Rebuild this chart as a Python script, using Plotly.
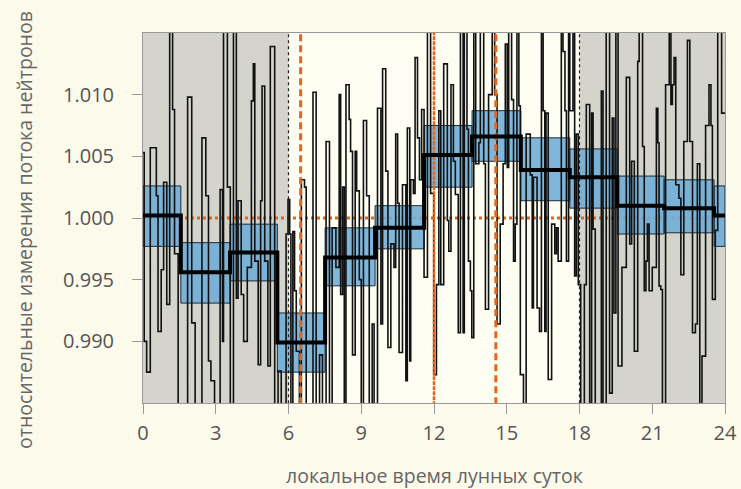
import plotly.graph_objects as go

# ---------------- data ----------------
hours = [0.00, 0.05, 0.15, 0.30, 0.55, 0.62, 0.75, 0.85, 0.98, 1.10, 1.22, 1.30, 1.45, 1.84, 2.01,
         2.15, 2.43, 2.59, 2.70, 2.80, 2.95, 3.18, 3.28, 3.32, 3.48, 3.60, 3.73, 3.85, 3.92, 4.05,
         4.15, 4.30, 4.47, 4.55, 4.61, 4.75, 4.85, 4.91, 5.02, 5.15, 5.25, 5.43, 5.57, 5.70, 5.90,
         5.98, 6.05, 6.10, 6.18, 6.25, 6.32, 6.45, 6.53, 6.66, 6.73, 7.01, 7.14, 7.28, 7.40, 7.55,
         7.69, 7.80, 7.955, 8.09, 8.15, 8.23, 8.30, 8.37, 8.50, 8.56, 8.64, 8.75, 8.81, 8.92, 9.00,
         9.09, 9.22, 9.33, 9.45, 9.53, 9.67, 9.81, 9.88, 10.01, 10.10, 10.22, 10.35, 10.42, 10.50, 10.56,
         10.70, 10.84, 10.90, 11.00, 11.04, 11.15, 11.22, 11.32, 11.40, 11.49, 11.59, 11.73, 11.86, 11.99, 12.10,
         12.20, 12.28, 12.40, 12.55, 12.61, 12.70, 12.80, 12.88, 13.00, 13.09, 13.20, 13.25, 13.36, 13.42, 13.50,
         13.56, 13.64, 13.72, 13.85, 13.91, 14.05, 14.12, 14.25, 14.40, 14.50, 14.60, 14.73, 14.85, 14.94, 15.02,
         15.08, 15.20, 15.28, 15.35, 15.42, 15.50, 15.56, 15.69, 15.80, 15.97, 16.05, 16.10, 16.25, 16.35, 16.43,
         16.50, 16.57, 16.62, 16.71, 16.85, 16.98, 17.05, 17.12, 17.25, 17.32, 17.40, 17.46, 17.55, 17.60, 17.73,
         17.80, 17.87, 17.95, 18.05, 18.20, 18.28, 18.42, 18.50, 18.56, 18.65, 18.90, 18.97, 19.10, 19.24, 19.35,
         19.42, 19.50, 19.59, 19.75, 19.93, 20.07, 20.15, 20.26, 20.40, 20.46, 20.60, 20.67, 20.74, 20.80, 20.87,
         21.00, 21.17, 21.23, 21.28, 21.35, 21.42, 21.55, 21.70, 21.77, 21.83, 21.90, 21.97, 22.10, 22.18, 22.30,
         22.45, 22.55, 22.66, 22.78, 22.86, 22.96, 23.05, 23.20, 23.34, 23.42, 23.48, 23.60, 23.70, 23.86, 24.00]

flux = [1.0053, 0.9900, 0.9875, 1.0057, 1.0018, 0.9908, 0.9958, 1.0029, 0.9930, 1.0160, 1.0088, 0.9971, 0.9840, 1.0098, 0.9915,
        0.9840, 1.0065, 1.0018, 0.9884, 0.9868, 0.9840, 1.0023, 0.9900, 1.0160, 1.0025, 0.9840, 1.0160, 0.9935, 1.0014, 0.9938,
        0.9900, 0.9960, 1.0095, 1.0125, 0.9965, 0.9881, 1.0014, 1.0107, 0.9965, 0.9880, 1.0139, 0.9840, 0.9876, 0.9840, 0.9987,
        1.0015, 0.9987, 0.9840, 0.9989, 0.9941, 0.9892, 0.9840, 1.0031, 1.0025, 0.9840, 1.0102, 0.9840, 0.9889, 0.9840, 1.0062,
        0.9840, 0.9992, 0.9960, 1.0100, 0.9938, 1.0025, 0.9840, 1.0108, 1.0080, 1.0054, 0.9889, 1.0054, 1.0022, 0.9950, 0.9840,
        1.0079, 1.0018, 0.9840, 0.9914, 0.9840, 1.0089, 0.9914, 1.0121, 1.0038, 0.9895, 0.9979, 0.9960, 1.0068, 1.0012, 0.9891,
        1.0027, 0.9868, 1.0073, 0.9884, 1.0031, 1.0020, 1.0130, 1.0065, 1.0031, 1.0088, 0.9952, 1.0160, 1.0020, 0.9873, 0.9946,
        1.0087, 0.9946, 1.0125, 0.9998, 0.9973, 1.0108, 1.0046, 1.0019, 0.9907, 1.0160, 0.9907, 1.0160, 1.0072, 0.9965, 0.9941,
        0.9903, 1.0160, 1.0044, 1.0061, 1.0160, 1.0044, 0.9926, 1.0100, 1.0160, 1.0100, 0.9914, 0.9995, 1.0044, 1.0141, 1.0041,
        1.0160, 1.0096, 0.9965, 0.9995, 1.0160, 1.0091, 0.9873, 0.9840, 1.0068, 1.0035, 0.9927, 1.0033, 0.9927, 0.9908, 1.0160,
        1.0087, 0.9908, 1.0085, 0.9869, 0.9995, 0.9971, 0.9992, 0.9965, 1.0160, 1.0135, 1.0087, 0.9965, 1.0160, 1.0087, 1.0160,
        0.9953, 1.0068, 0.9946, 0.9840, 0.9946, 1.0092, 0.9840, 1.0085, 0.9991, 0.9840, 1.0103, 0.9840, 1.0160, 0.9858, 1.0081,
        0.9923, 1.0160, 0.9880, 0.9960, 1.0114, 0.9979, 1.0046, 0.9892, 1.0127, 1.0160, 1.0058, 0.9941, 0.9965, 0.9995, 0.9941,
        0.9960, 1.0089, 1.0061, 0.9945, 0.9942, 0.9840, 1.0108, 1.0160, 1.0092, 1.0108, 1.0130, 1.0027, 1.0016, 0.9954, 1.0062,
        1.0144, 1.0062, 0.9907, 0.9914, 1.0044, 0.9840, 0.9888, 1.0075, 1.0108, 1.0075, 0.9934, 0.9990, 1.0160, 1.0085, 1.0085]

bin_edges = [0.0, 1.56, 3.59, 5.54, 7.51, 9.57, 11.59, 13.57, 15.58, 17.60, 19.56, 21.49, 23.55, 24.0]
bin_mean = [1.0002, 0.9956, 0.9972, 0.9899, 0.9968, 0.9992, 1.0051, 1.0066, 1.0039, 1.0033, 1.0010, 1.0008, 1.0002]
bin_hi = [1.0026, 0.9980, 0.9995, 0.9923, 0.9992, 1.0010, 1.0075, 1.0087, 1.0065, 1.0056, 1.0034, 1.0031, 1.0026]
bin_lo = [0.9977, 0.9931, 0.9949, 0.9875, 0.9945, 0.9975, 1.0025, 1.0046, 1.0014, 1.0008, 0.9987, 0.9988, 0.9977]

night_spans = [(0, 6), (18, 24)]
terminators = [6, 18]
orange_dashed = [6.5, 14.55]
orange_fine = [12.0]
reference_level = 1.000

x_ticks = [0, 3, 6, 9, 12, 15, 18, 21, 24]
y_ticks = [0.990, 0.995, 1.000, 1.005, 1.010]
y_ticktext = ["0.990", "0.995", "1.000", "1.005", "1.010"]

x_title = "локальное время лунных суток"
y_title = "относительные измерения потока нейтронов"

Y_MIN, Y_MAX = 0.985, 1.015
ORANGE = "#E3661C"
PAPER = "#FCFAEA"
GRAY_BG = "#D4D4CC"
BLUE = "rgba(110,172,214,0.88)"

fig = go.Figure()

# reference horizontal line (under boxes)
fig.add_trace(go.Scatter(x=[0, 24], y=[reference_level, reference_level], mode="lines",
                         line=dict(color=ORANGE, width=2.8, dash="dot"), hoverinfo="skip"))

# blue uncertainty boxes
bx, by = [], []
for i in range(len(bin_mean)):
    a, b = bin_edges[i], bin_edges[i + 1]
    bx += [a, b, b, a, a, None]
    by += [bin_lo[i], bin_lo[i], bin_hi[i], bin_hi[i], bin_lo[i], None]
fig.add_trace(go.Scatter(x=bx, y=by, mode="lines", fill="toself", fillcolor=BLUE,
                         line=dict(color="#1b2b36", width=1), hoverinfo="skip"))

# noisy measurement step line
fig.add_trace(go.Scatter(x=hours, y=flux, mode="lines", line=dict(color="#111111", width=1.6, shape="hv"),
                         hoverinfo="skip"))

# orange vertical lines
for xv in orange_dashed:
    fig.add_trace(go.Scatter(x=[xv, xv], y=[Y_MIN - 0.001, Y_MAX + 0.001], mode="lines",
                             line=dict(color=ORANGE, width=3, dash="7px,4px"), hoverinfo="skip"))
for xv in orange_fine:
    fig.add_trace(go.Scatter(x=[xv, xv], y=[Y_MIN - 0.001, Y_MAX + 0.001], mode="lines",
                             line=dict(color=ORANGE, width=2.5, dash="4px,1px"), hoverinfo="skip"))

# terminator dotted lines
for xv in terminators:
    fig.add_trace(go.Scatter(x=[xv, xv], y=[Y_MIN - 0.001, Y_MAX + 0.001], mode="lines",
                             line=dict(color="#222222", width=1.2, dash="dot"), hoverinfo="skip"))

# mean step line
fig.add_trace(go.Scatter(x=bin_edges, y=bin_mean + [bin_mean[-1]], mode="lines",
                         line=dict(color="#000000", width=4, shape="hv"), hoverinfo="skip"))

shapes = []
for a, b in night_spans:
    shapes.append(dict(type="rect", xref="x", yref="y", x0=a, x1=b, y0=Y_MIN, y1=Y_MAX,
                       fillcolor=GRAY_BG, line=dict(width=0), layer="below"))

annotations = [
    dict(text=x_title, xref="paper", yref="paper", x=0.5, y=-0.197, xanchor="center", yanchor="middle",
         showarrow=False, font=dict(size=19.5, color="#666666")),
    dict(text=y_title, xref="paper", yref="paper", x=-0.2027, y=0.4676, xanchor="center", yanchor="middle",
         textangle=-90, showarrow=False, font=dict(size=19.5, color="#666666")),
]

fig.update_layout(
    width=741, height=489,
    margin=dict(l=143, r=16, t=33, b=86),
    paper_bgcolor=PAPER, plot_bgcolor="#FEFDF1",
    showlegend=False,
    shapes=shapes,
    annotations=annotations,
    font=dict(family="Open Sans", color="#555555", size=20),
    xaxis=dict(range=[0, 24], tickvals=x_ticks, ticks="outside", ticklen=10, tickcolor="#999999",
               showgrid=False, zeroline=False, showline=True, linecolor="#999999", mirror=True,
               ticklabelstandoff=2, automargin=False),
    yaxis=dict(range=[Y_MIN, Y_MAX], tickvals=y_ticks, ticktext=y_ticktext, ticks="outside", ticklen=10,
               tickcolor="#999999", showgrid=False, zeroline=False, showline=True, linecolor="#999999",
               mirror=True, ticklabelstandoff=14, automargin=False),
)

fig.write_html("out.html", config={"displayModeBar": False},
               post_script="document.body.style.margin='0px';document.body.style.background='#FCFAEA';")
